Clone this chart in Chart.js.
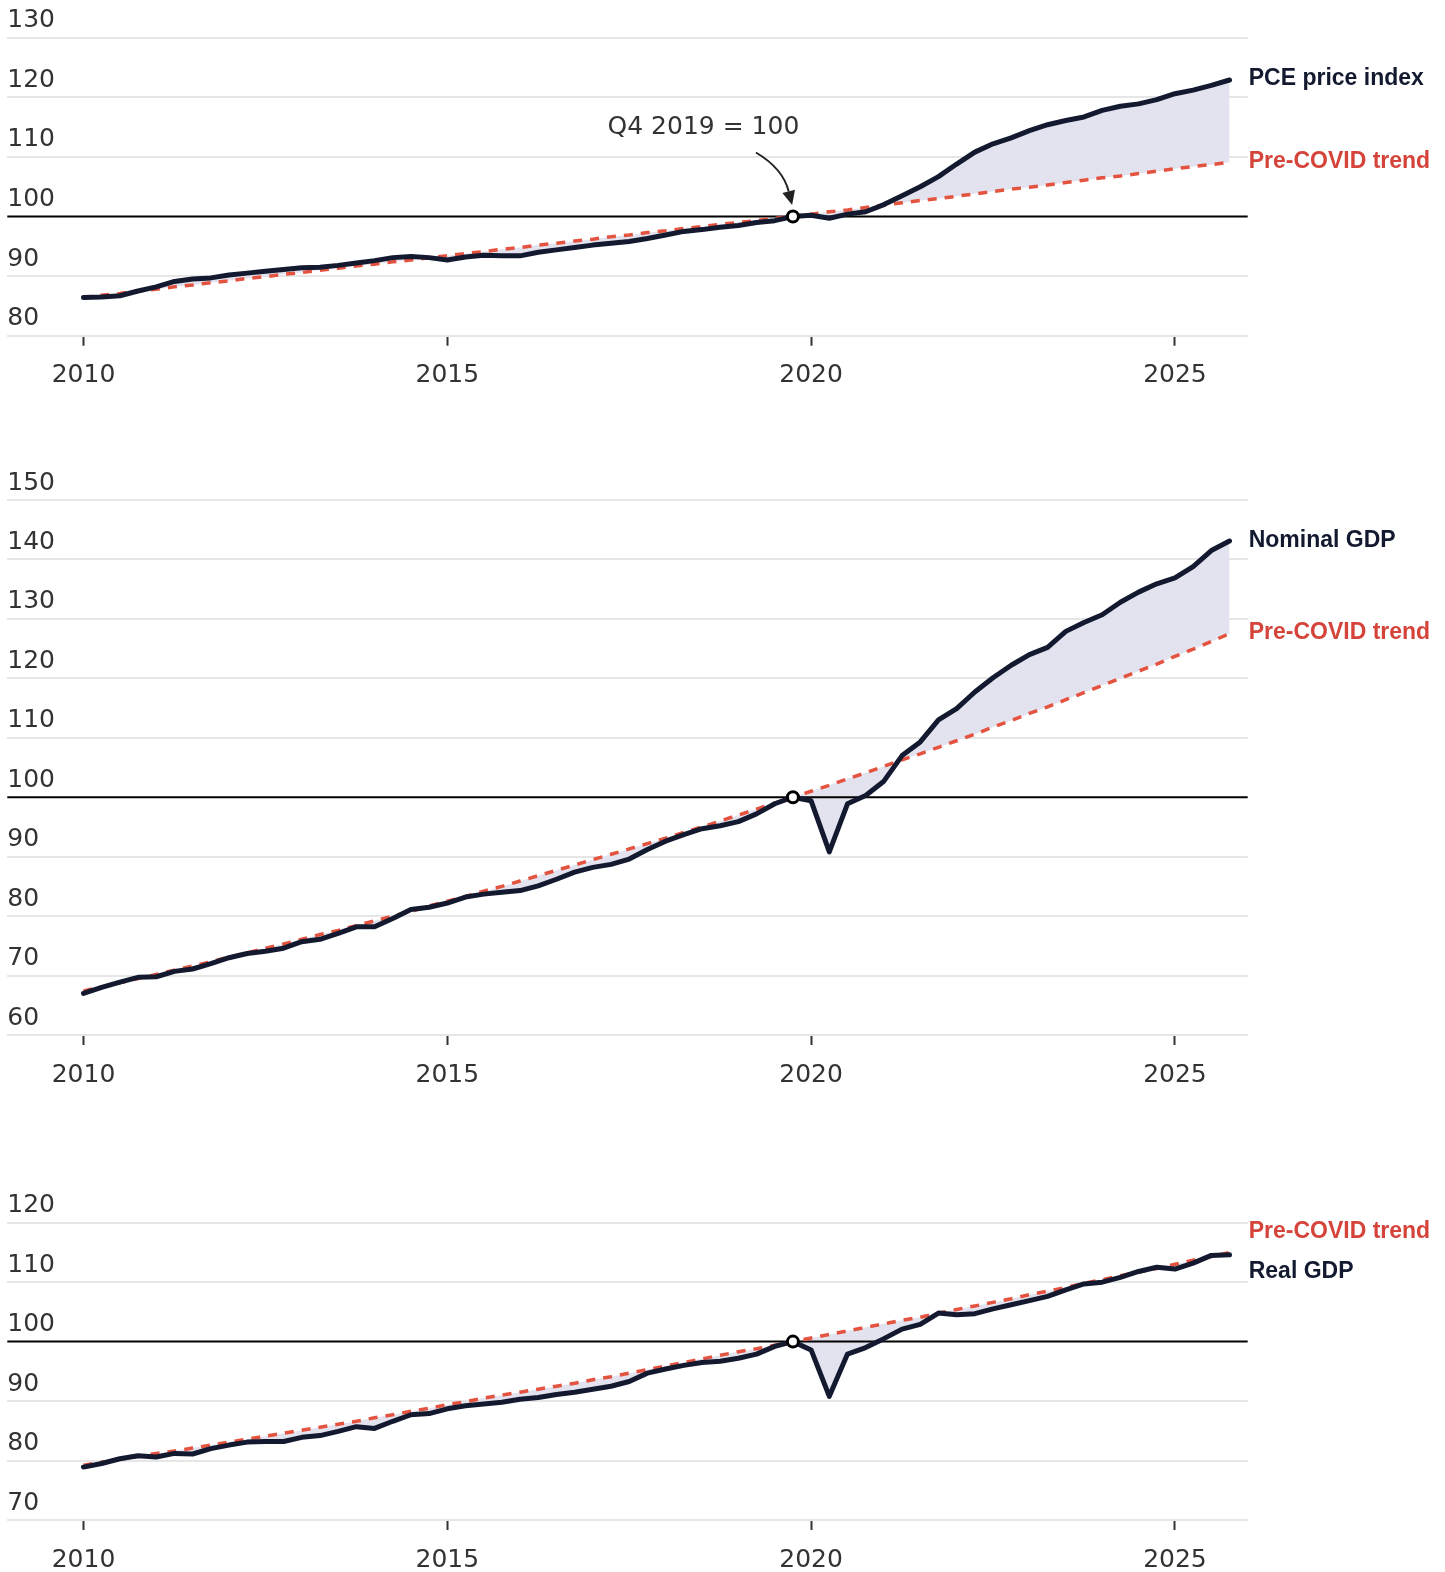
<!DOCTYPE html>
<html>
<head>
<meta charset="utf-8">
<script src="https://cdn.jsdelivr.net/npm/chart.js@4.4.1/dist/chart.umd.min.js"></script>
<style>
  html, body { margin: 0; padding: 0; background: #fff; }
  body { width: 1445px; height: 1572px; position: relative; overflow: hidden; }
  canvas { position: absolute; left: 0; }
</style>
</head>
<body>
<canvas id="pce" width="1445" height="400" style="top:0px"></canvas>
<canvas id="nominal" width="1445" height="660" style="top:440px"></canvas>
<canvas id="real" width="1445" height="402" style="top:1170px"></canvas>
<script>
// Quarters, 2010 Q1 to 2025 Q4
const quarters = [
  '2010 Q1', '2010 Q2', '2010 Q3', '2010 Q4', '2011 Q1', '2011 Q2', '2011 Q3', '2011 Q4',
  '2012 Q1', '2012 Q2', '2012 Q3', '2012 Q4', '2013 Q1', '2013 Q2', '2013 Q3', '2013 Q4',
  '2014 Q1', '2014 Q2', '2014 Q3', '2014 Q4', '2015 Q1', '2015 Q2', '2015 Q3', '2015 Q4',
  '2016 Q1', '2016 Q2', '2016 Q3', '2016 Q4', '2017 Q1', '2017 Q2', '2017 Q3', '2017 Q4',
  '2018 Q1', '2018 Q2', '2018 Q3', '2018 Q4', '2019 Q1', '2019 Q2', '2019 Q3', '2019 Q4',
  '2020 Q1', '2020 Q2', '2020 Q3', '2020 Q4', '2021 Q1', '2021 Q2', '2021 Q3', '2021 Q4',
  '2022 Q1', '2022 Q2', '2022 Q3', '2022 Q4', '2023 Q1', '2023 Q2', '2023 Q3', '2023 Q4',
  '2024 Q1', '2024 Q2', '2024 Q3', '2024 Q4', '2025 Q1', '2025 Q2', '2025 Q3', '2025 Q4'
];
const baseQuarter = '2019 Q4';

// PCE price index (Q4 2019 = 100) and its pre-COVID trend
const pce = [
  86.4, 86.5, 86.7, 87.5, 88.2, 89.1, 89.5, 89.7, 90.2, 90.5,
  90.8, 91.1, 91.4, 91.5, 91.8, 92.2, 92.6, 93.1, 93.3, 93.1,
  92.7, 93.2, 93.5, 93.4, 93.4, 94.0, 94.4, 94.8, 95.2, 95.5,
  95.8, 96.3, 96.9, 97.5, 97.8, 98.2, 98.5, 99.0, 99.3, 100.0,
  100.2, 99.7, 100.4, 100.8, 102.0, 103.5, 105.0, 106.7, 108.8, 110.8,
  112.2, 113.2, 114.4, 115.4, 116.1, 116.7, 117.8, 118.5, 118.9, 119.6,
  120.6, 121.2, 122.0, 122.9
];
const pceTrend = [
  86.4, 86.8, 87.1, 87.5, 87.8, 88.2, 88.5, 88.9, 89.2, 89.6,
  89.9, 90.3, 90.6, 91.0, 91.3, 91.7, 92.0, 92.4, 92.7, 93.1,
  93.4, 93.8, 94.1, 94.5, 94.8, 95.2, 95.5, 95.9, 96.2, 96.6,
  96.9, 97.3, 97.6, 98.0, 98.3, 98.7, 99.0, 99.3, 99.7, 100.0,
  100.4, 100.8, 101.1, 101.5, 101.9, 102.3, 102.7, 103.0, 103.4, 103.8,
  104.2, 104.6, 104.9, 105.3, 105.7, 106.1, 106.5, 106.8, 107.2, 107.6,
  108.0, 108.4, 108.7, 109.1
];

// Nominal GDP and its pre-COVID trend
const nominalGdp = [
  67.0, 68.0, 68.9, 69.7, 69.8, 70.7, 71.1, 72.0, 73.0, 73.7,
  74.1, 74.6, 75.7, 76.1, 77.1, 78.2, 78.2, 79.6, 81.1, 81.5,
  82.2, 83.2, 83.7, 84.0, 84.3, 85.1, 86.2, 87.4, 88.2, 88.7,
  89.6, 91.2, 92.6, 93.7, 94.7, 95.2, 95.9, 97.2, 98.9, 100.0,
  99.4, 90.8, 98.9, 100.3, 102.7, 107.0, 109.3, 113.0, 114.9, 117.7,
  120.1, 122.2, 124.0, 125.2, 127.9, 129.4, 130.7, 132.8, 134.5, 135.9,
  136.9, 138.8, 141.5, 143.1
];
const nominalTrend = [
  67.4, 68.1, 68.8, 69.5, 70.2, 70.9, 71.6, 72.3, 73.1, 73.8,
  74.6, 75.3, 76.1, 76.9, 77.6, 78.4, 79.2, 80.0, 80.8, 81.7,
  82.5, 83.3, 84.2, 85.0, 85.9, 86.8, 87.7, 88.6, 89.5, 90.4,
  91.3, 92.2, 93.1, 94.1, 95.0, 96.0, 97.0, 98.0, 99.0, 100.0,
  101.0, 102.0, 103.1, 104.1, 105.2, 106.3, 107.3, 108.4, 109.5, 110.6,
  111.8, 112.9, 114.1, 115.2, 116.4, 117.6, 118.8, 120.0, 121.2, 122.4,
  123.7, 124.9, 126.2, 127.5
];

// Real GDP and its pre-COVID trend
const realGdp = [
  78.9, 79.5, 80.3, 80.8, 80.6, 81.2, 81.1, 82.0, 82.6, 83.1,
  83.2, 83.2, 83.9, 84.2, 84.9, 85.7, 85.4, 86.6, 87.7, 87.9,
  88.7, 89.2, 89.5, 89.8, 90.3, 90.6, 91.1, 91.5, 92.0, 92.5,
  93.3, 94.7, 95.4, 96.0, 96.5, 96.7, 97.2, 97.9, 99.2, 100.0,
  98.6, 90.8, 97.9, 99.0, 100.5, 102.1, 102.9, 104.8, 104.5, 104.7,
  105.5, 106.2, 106.9, 107.6, 108.7, 109.7, 110.0, 110.8, 111.8, 112.5,
  112.2, 113.2, 114.5, 114.6
];
const realTrend = [
  79.2, 79.7, 80.2, 80.7, 81.2, 81.6, 82.1, 82.6, 83.1, 83.6,
  84.1, 84.6, 85.1, 85.6, 86.1, 86.6, 87.2, 87.7, 88.3, 88.8,
  89.4, 89.9, 90.5, 91.0, 91.5, 92.0, 92.5, 93.0, 93.6, 94.1,
  94.7, 95.3, 95.9, 96.5, 97.1, 97.7, 98.3, 98.8, 99.4, 100.0,
  100.6, 101.2, 101.8, 102.4, 103.0, 103.6, 104.1, 104.8, 105.4, 106.0,
  106.6, 107.2, 107.9, 108.5, 109.1, 109.8, 110.4, 111.1, 111.7, 112.3,
  113.0, 113.7, 114.3, 115.0
];

// Tick labels
const yearTicks = [2010, 2015, 2020, 2025];
const pceTicks = [80, 90, 100, 110, 120, 130];
const nominalTicks = [60, 70, 80, 90, 100, 110, 120, 130, 140, 150];
const realTicks = [70, 80, 90, 100, 110, 120];

const NAVY = '#131a30';
const RED_LINE = '#e4533f';
const RED_TEXT = '#d5443a';
const SHADE = '#e3e3ef';
const TEXT = '#333333';

const xValues = quarters.map(q => {
  const [yr, qq] = q.split(' Q');
  return Number(yr) + (Number(qq) - 1) / 4;
});
const baseIndex = quarters.indexOf(baseQuarter);
const toPoints = arr => arr.map((v, i) => ({ x: xValues[i], y: v }));

function makeChart(cfg) {
  // reference line at 100, end labels, annotation
  const overlay = {
    id: 'overlay',
    beforeDatasetsDraw(chart) {
      const { ctx, chartArea: a, scales: { y } } = chart;
      const py = y.getPixelForValue(100);
      ctx.save();
      ctx.strokeStyle = '#000';
      ctx.lineWidth = 2;
      ctx.beginPath();
      ctx.moveTo(a.left, py);
      ctx.lineTo(a.right, py);
      ctx.stroke();
      ctx.restore();
    },
    afterDatasetsDraw(chart) {
      const { ctx, chartArea: a, scales: { x, y } } = chart;
      ctx.save();
      ctx.font = 'bold 23px "Liberation Sans", Arial, sans-serif';
      ctx.textAlign = 'left';
      ctx.textBaseline = 'alphabetic';
      const lastS = cfg.series[cfg.series.length - 1];
      const lastT = cfg.trend[cfg.trend.length - 1];
      ctx.fillStyle = NAVY;
      ctx.fillText(cfg.seriesLabel, a.right + 1, y.getPixelForValue(lastS) + cfg.shift[0] + 8.3);
      ctx.fillStyle = RED_TEXT;
      ctx.fillText('Pre-COVID trend', a.right + 1, y.getPixelForValue(lastT) + cfg.shift[1] + 8.3);

      if (cfg.note) {
        const px = x.getPixelForValue(xValues[baseIndex]);
        const py = y.getPixelForValue(100);
        ctx.font = '25px "DejaVu Sans", sans-serif';
        ctx.fillStyle = TEXT;
        ctx.textAlign = 'center';
        ctx.fillText(cfg.note, px - 89.5, py - 82.4);
        // curved arrow
        const sx = px - 37, sy = py - 64;
        const cx = px - 10, cy = py - 48;
        const tx = px - 0.8, ty = py - 11.5;
        const ang = Math.atan2(ty - cy, tx - cx);
        const hl = 14, hw = 6.5;
        const bx = tx - hl * Math.cos(ang), by = ty - hl * Math.sin(ang);
        ctx.strokeStyle = '#222';
        ctx.lineWidth = 2;
        ctx.beginPath();
        ctx.moveTo(sx, sy);
        ctx.quadraticCurveTo(cx, cy, bx, by);
        ctx.stroke();
        ctx.fillStyle = '#222';
        ctx.beginPath();
        ctx.moveTo(tx, ty);
        ctx.lineTo(bx + hw * Math.sin(ang), by - hw * Math.cos(ang));
        ctx.lineTo(bx - hw * Math.sin(ang), by + hw * Math.cos(ang));
        ctx.closePath();
        ctx.fill();
      }
      ctx.restore();
    }
  };

  return new Chart(document.getElementById(cfg.id), {
    type: 'line',
    data: {
      datasets: [
        {
          label: cfg.seriesLabel,
          data: toPoints(cfg.series),
          borderColor: NAVY,
          borderWidth: 5,
          borderCapStyle: 'round',
          borderJoinStyle: 'round',
          tension: 0,
          fill: { target: 1, above: SHADE, below: SHADE },
          pointRadius: c => (c.dataIndex === baseIndex ? 5.5 : 0),
          pointBorderWidth: 3,
          pointBorderColor: '#000',
          pointBackgroundColor: '#fff'
        },
        {
          label: 'Pre-COVID trend',
          data: toPoints(cfg.trend),
          borderColor: RED_LINE,
          borderWidth: 3.5,
          borderDash: [9, 8],
          tension: 0,
          fill: false,
          pointRadius: 0
        }
      ]
    },
    options: {
      responsive: false,
      animation: false,
      events: [],
      layout: { padding: { top: cfg.padTop, left: 7.3, right: 197.3, bottom: 0 } },
      plugins: {
        legend: { display: false },
        tooltip: { enabled: false },
        filler: { propagate: false, drawTime: 'beforeDatasetsDraw' }
      },
      scales: {
        x: {
          type: 'linear',
          min: 2008.953,
          max: 2026.0,
          afterBuildTicks: s => { s.ticks = yearTicks.map(v => ({ value: v })); },
          afterFit: s => { s.height = cfg.axisH; },
          border: { display: false },
          grid: {
            drawOnChartArea: false,
            drawTicks: true,
            tickLength: 10,
            tickColor: TEXT,
            tickWidth: 2
          },
          ticks: {
            color: TEXT,
            padding: 15,
            maxRotation: 0,
            autoSkip: false,
            font: { family: 'DejaVu Sans', size: 25 },
            callback: v => String(v)
          }
        },
        y: {
          type: 'linear',
          min: cfg.yTicks[0],
          max: cfg.yTicks[cfg.yTicks.length - 1],
          afterBuildTicks: s => { s.ticks = cfg.yTicks.map(v => ({ value: v })); },
          afterFit: s => { s.width = 0; },
          border: { display: false },
          grid: {
            drawTicks: false,
            lineWidth: 2,
            color: c => (c.tick && c.tick.value === 100 ? 'rgba(0,0,0,0)' : '#e6e6e6')
          },
          ticks: {
            mirror: true,
            padding: 0,
            labelOffset: -17,
            color: TEXT,
            font: { family: 'DejaVu Sans', size: 25 },
            callback: v => String(v)
          }
        }
      }
    },
    plugins: [overlay]
  });
}

makeChart({
  id: 'pce', series: pce, trend: pceTrend, yTicks: pceTicks,
  seriesLabel: 'PCE price index', shift: [-3.5, -3],
  padTop: 37.7, axisH: 64.3, note: 'Q4 2019 = 100'
});
makeChart({
  id: 'nominal', series: nominalGdp, trend: nominalTrend, yTicks: nominalTicks,
  seriesLabel: 'Nominal GDP', shift: [-2, -3],
  padTop: 60, axisH: 65
});
makeChart({
  id: 'real', series: realGdp, trend: realTrend, yTicks: realTicks,
  seriesLabel: 'Real GDP', shift: [15.2, -23],
  padTop: 52.7, axisH: 52
});
</script>
</body>
</html>
